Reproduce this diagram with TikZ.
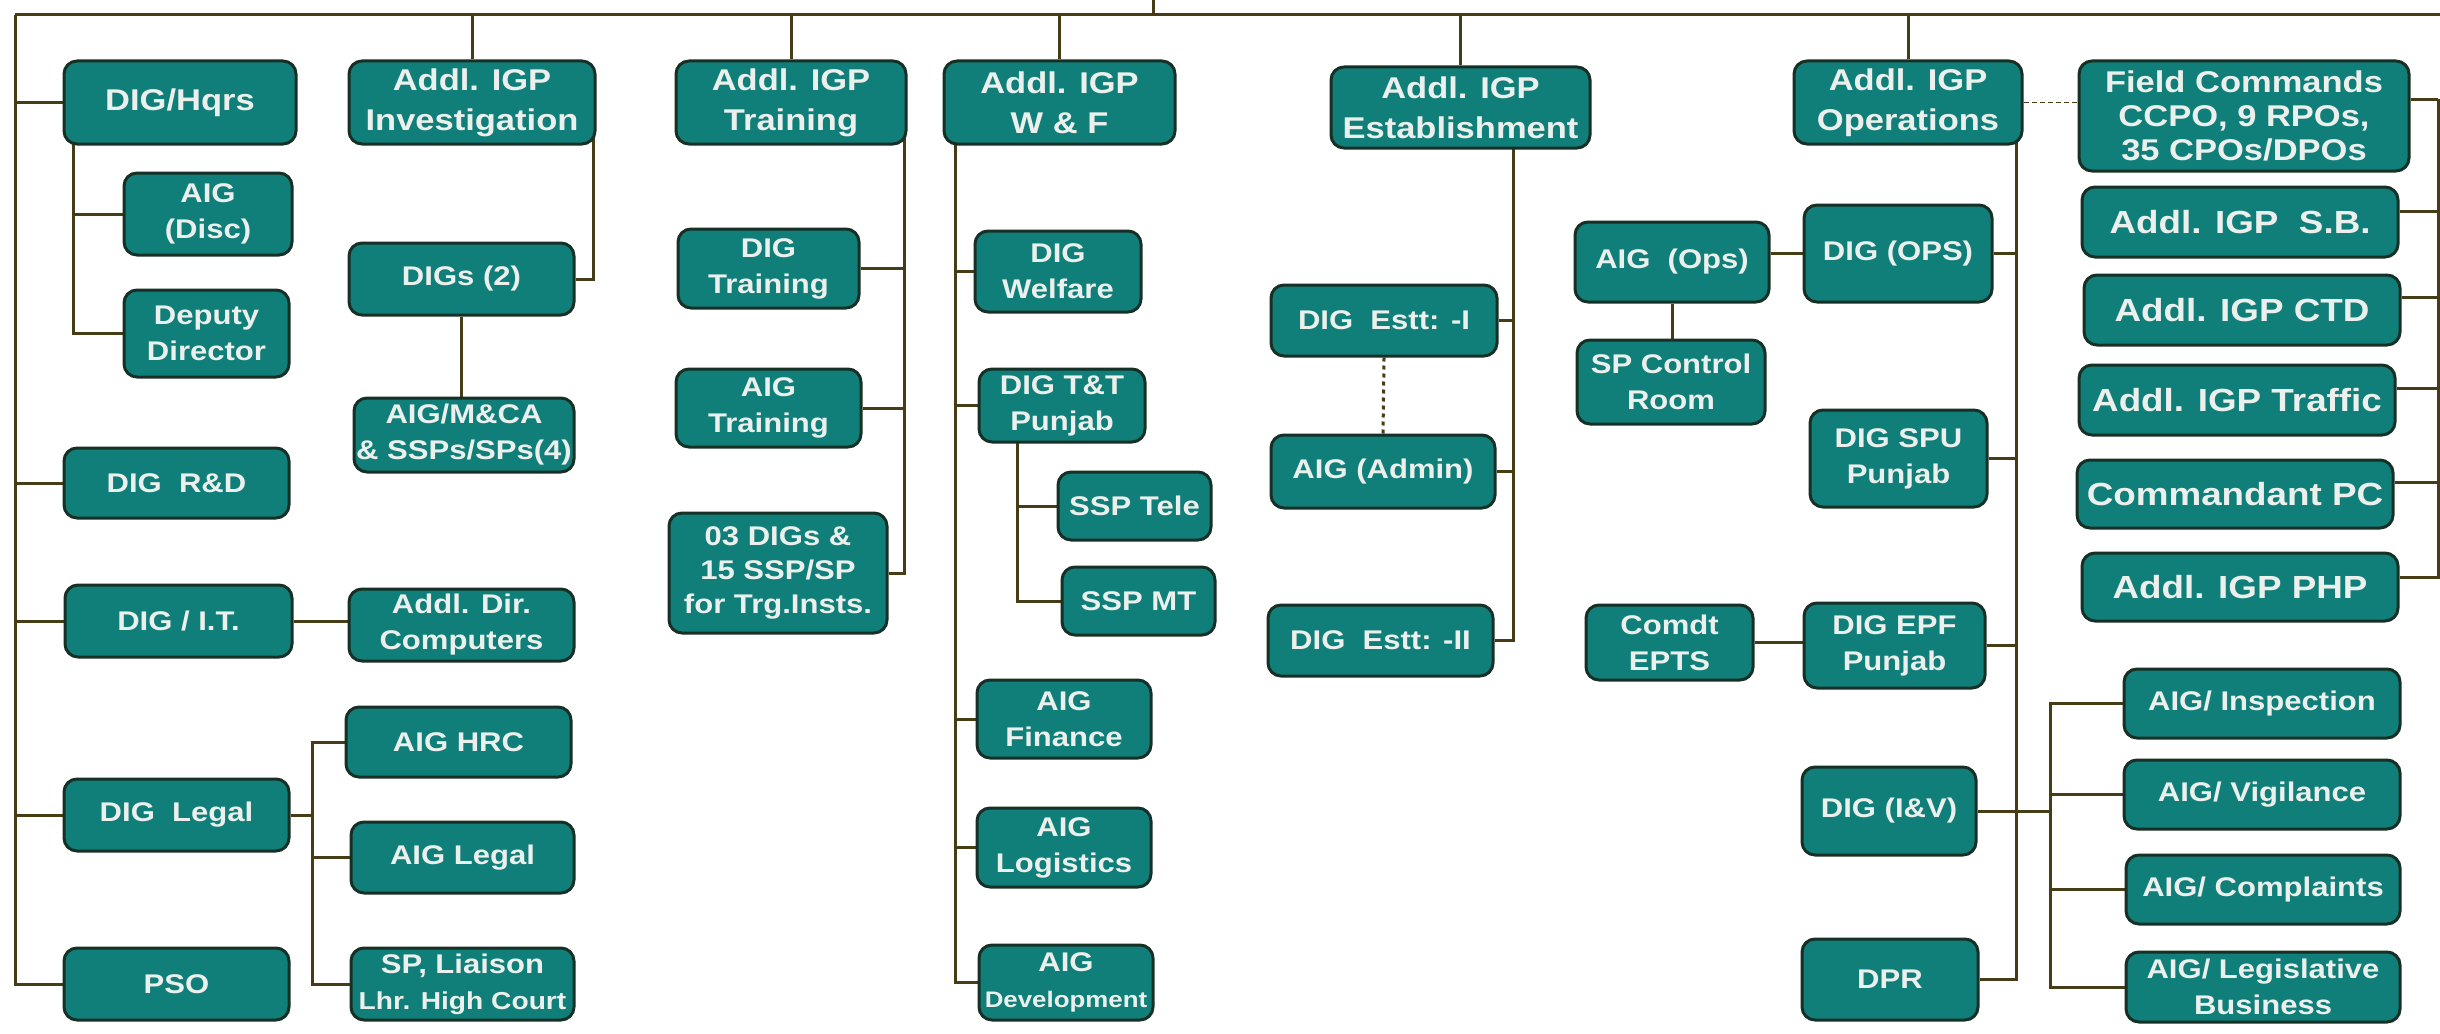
\documentclass[tikz,border=0pt]{standalone}
\usepackage{fontspec}
\setmainfont{Liberation Sans}[FakeStretch=1.15]
\usetikzlibrary{backgrounds}
\definecolor{tealbox}{RGB}{16,127,122}
\definecolor{boxrim}{RGB}{22,48,38}
\definecolor{wire}{RGB}{70,60,22}
\definecolor{inkwhite}{RGB}{236,240,236}
\tikzset{
  post/.style 2 args={draw=boxrim, line width=3pt, fill=tealbox, rounded corners=13pt,
    text=inkwhite, align=center, inner sep=0pt, minimum width=#1pt, minimum height=#2pt,
    font=\bfseries\fontsize{27}{36}\selectfont},
  topfont/.style={font=\bfseries\fontsize{30}{40}\selectfont},
  sidefont/.style={font=\bfseries\fontsize{32}{36}\selectfont},
  link/.style={draw=wire, line width=3pt},
  vh/.style={to path={|- (\tikztotarget)}},
  hv/.style={to path={-| (\tikztotarget)}},
}

\begin{document}
\begin{tikzpicture}[x=1pt,y=-1pt]
		\useasboundingbox (0,0) rectangle (2440,1033);
		% DIG/Hqrs column
		\node[post={232}{83},topfont](hqrs) at (180,102.5) {DIG/Hqrs};
		\node[post={168}{82}](disc) at (208,214) {AIG\\(Disc)};
		\node[post={165}{87}](depdir) at (206.5,333.5) {Deputy\\Director};
		\node[post={225}{70}](rnd) at (176.5,483) {DIG\ \ R\&D};
		\node[post={227}{72}](it) at (178.5,621) {DIG / I.T.};
		\node[post={225}{72}](legal) at (176.5,815) {DIG\ \ Legal};
		\node[post={225}{72}](pso) at (176.5,984) {PSO};
		% Investigation
		\node[post={246}{83},topfont](inv) at (472,102.5) {Addl. IGP\\Investigation};
		\node[post={225}{72}](digs) at (461.5,279) {DIGs (2)};
		\node[post={220}{74}](mca) at (464,435) {AIG/M\&CA\\\& SSPs/SPs(4)};
		\node[post={225}{72}](comp) at (461.5,625) {Addl. Dir.\\Computers};
		\node[post={225}{70}](hrc) at (458.5,742) {AIG HRC};
		\node[post={223}{71}](aiglegal) at (462.5,857.5) {AIG Legal};
		\node[post={223}{72}](liaison) at (462.5,984) {SP, Liaison\\{\fontsize{24.5}{30}\selectfont Lhr. High Court}};
		% Training
		\node[post={230}{83},topfont](trg) at (791,102.5) {Addl. IGP\\Training};
		\node[post={181}{79}](digtrg) at (768.5,268.5) {DIG\\Training};
		\node[post={185}{78}](aigtrg) at (768.5,408) {AIG\\Training};
		\node[post={218}{120},font=\bfseries\fontsize{27}{34}\selectfont](insts) at (778,573) {03 DIGs \&\\15 SSP/SP\\for Trg.Insts.};
		% W & F
		\node[post={231}{83},topfont](wf) at (1059.5,102.5) {Addl. IGP\\W \& F};
		\node[post={166}{81}](welfare) at (1058,271.5) {DIG\\Welfare};
		\node[post={166}{73}](tt) at (1062,405.5) {DIG T\&T\\Punjab};
		\node[post={153}{68}](tele) at (1134.5,506) {SSP Tele};
		\node[post={153}{68}](mt) at (1138.5,601) {SSP MT};
		\node[post={174}{78}](fin) at (1064,719) {AIG\\Finance};
		\node[post={174}{79}](logi) at (1064,847.5) {AIG\\Logistics};
		\node[post={174}{75}](dev) at (1066,982.5) {AIG\\{\fontsize{22.5}{28}\selectfont Development}};
		% Establishment
		\node[post={259}{81},topfont](estt) at (1460.5,107.5) {Addl. IGP\\Establishment};
		\node[post={226}{71}](esttone) at (1384,320.5) {DIG\ \ Estt: -I};
		\node[post={224}{73}](admin) at (1383,471.5) {AIG (Admin)};
		\node[post={225}{71}](estttwo) at (1380.5,640.5) {DIG\ \ Estt: -II};
		% Operations
		\node[post={194}{80}](aigops) at (1672,262) {AIG\ \ (Ops)};
		\node[post={188}{84}](ctrl) at (1671,382) {SP Control\\Room};
		\node[post={167}{75}](epts) at (1669.5,642.5) {Comdt\\EPTS};
		\node[post={228}{83},topfont](ops) at (1908,102.5) {Addl. IGP\\Operations};
		\node[post={188}{97}](digops) at (1898,253.5) {DIG (OPS)};
		\node[post={177}{97}](spu) at (1898.5,458.5) {DIG SPU\\Punjab};
		\node[post={181}{85}](epf) at (1894.5,645.5) {DIG EPF\\Punjab};
		\node[post={174}{88}](iv) at (1889,811) {DIG (I\&V)};
		\node[post={176}{81}](dpr) at (1890,979.5) {DPR};
		% field and right column
		\node[post={330}{110},font=\bfseries\fontsize{30}{34}\selectfont](field) at (2244,116) {Field Commands\\CCPO, 9 RPOs,\\35 CPOs/DPOs};
		\node[post={316}{70},sidefont](sb) at (2240,222) {Addl. IGP\ \ S.B.};
		\node[post={316}{70},sidefont](ctd) at (2242,310) {Addl. IGP CTD};
		\node[post={316}{70},sidefont](traffic) at (2237,400) {Addl. IGP Traffic};
		\node[post={316}{68},sidefont](pc) at (2235,494) {Commandant PC};
		\node[post={316}{68},sidefont](php) at (2240,587) {Addl. IGP PHP};
		\node[post={276}{69}](insp) at (2262,703.5) {AIG/ Inspection};
		\node[post={276}{69}](vig) at (2262,794.5) {AIG/ Vigilance};
		\node[post={274}{69}](compl) at (2263,889.5) {AIG/ Complaints};
		\node[post={274}{70}](legis) at (2263,987) {AIG/ Legislative\\Business};

		\begin{scope}[on background layer]
		\fill[white] (0,0) rectangle (2440,1033);
		\coordinate (root) at (1153,0);
		\coordinate (lbus) at (15,15);
		\coordinate (rbus) at (2440,15);
		\coordinate (sbus) at (2438,99);
		\coordinate (hqbus) at (73,120);
		\coordinate (invbus) at (593,120);
		\coordinate (trgbus) at (904,120);
		\coordinate (wfbus) at (955,120);
		\coordinate (ttbus) at (1017,420);
		\coordinate (esttbus) at (1513,120);
		\coordinate (opsbus) at (2016,120);
		\coordinate (lgbus) at (312,815);
		\coordinate (ivbus) at (2050,811);
		\coordinate (fieldtap) at ([yshift=17pt]field.east);
		\coordinate (sbtap) at ([yshift=11pt]sb.east);
		\coordinate (ctdtap) at ([yshift=13pt]ctd.east);
		\coordinate (traffictap) at ([yshift=12pt]traffic.east);
		\coordinate (pctap) at ([yshift=12pt]pc.east);
		\coordinate (phptap) at ([yshift=10pt]php.east);
		% main bus
		\path[link]
		(root) edge (root |- lbus)
		(lbus) edge (rbus)
		(lbus) edge[vh] (pso.west)
		(hqrs.west) edge (hqrs.west -| lbus)
		(rnd.west) edge (rnd.west -| lbus)
		(it.west) edge (it.west -| lbus)
		(legal.west) edge (legal.west -| lbus)
		(inv.north) edge (inv.north |- lbus)
		(trg.north) edge (trg.north |- lbus)
		(wf.north) edge (wf.north |- lbus)
		(estt.north) edge (estt.north |- lbus)
		(ops.north) edge (ops.north |- lbus);
		% left side
		\path[link]
		(hqbus) edge[vh] (depdir.west)
		(disc.west) edge (disc.west -| hqbus)
		(invbus) edge[vh] (digs.east)
		(digs.south) edge (digs.south |- mca.north)
		(it.east) edge (it.east -| comp.west)
		(legal.east) edge (lgbus)
		(hrc.west) edge[hv] (lgbus)
		(lgbus) edge[vh] (liaison.west)
		(aiglegal.west) edge (aiglegal.west -| lgbus);
		% training, W & F
		\path[link]
		(trgbus) edge[vh] (insts.east)
		(digtrg.east) edge (digtrg.east -| trgbus)
		(aigtrg.east) edge (aigtrg.east -| trgbus)
		(wfbus) edge[vh] (dev.west)
		(welfare.west) edge (welfare.west -| wfbus)
		(tt.west) edge (tt.west -| wfbus)
		(fin.west) edge (fin.west -| wfbus)
		(logi.west) edge (logi.west -| wfbus)
		(ttbus) edge[vh] (mt.west)
		(tele.west) edge (tele.west -| ttbus);
		% establishment
		\path[link]
		(esttbus) edge[vh] (estttwo.east)
		(esttone.east) edge (esttone.east -| esttbus)
		(admin.east) edge (admin.east -| esttbus)
		(esttone.south) edge[dash pattern=on 4pt off 4pt] (admin.north);
		% operations
		\path[link]
		(opsbus) edge[vh] (dpr.east)
		(digops.east) edge (digops.east -| opsbus)
		(spu.east) edge (spu.east -| opsbus)
		(epf.east) edge (epf.east -| opsbus)
		(iv.east) edge (ivbus)
		(digops.west) edge (digops.west -| aigops.east)
		(aigops.south) edge (aigops.south |- ctrl.north)
		(epts.east) edge (epts.east -| epf.west)
		(ops.east) edge[line width=1.5pt, dash pattern=on 5pt off 3pt] (ops.east -| field.west)
		(insp.west) edge[hv] (ivbus)
		(ivbus) edge[vh] (legis.west)
		(vig.west) edge (vig.west -| ivbus)
		(compl.west) edge (compl.west -| ivbus);
		% right column
		\path[link]
		(fieldtap) edge (sbus)
		(sbus) edge[vh] (phptap)
		(sbtap) edge (sbtap -| sbus)
		(ctdtap) edge (ctdtap -| sbus)
		(traffictap) edge (traffictap -| sbus)
		(pctap) edge (pctap -| sbus);
		\end{scope}
\end{tikzpicture}
\end{document}
